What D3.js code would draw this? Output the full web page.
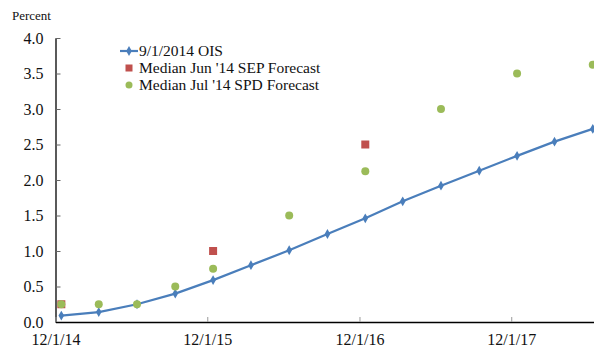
<!DOCTYPE html>
<html>
<head>
<meta charset="utf-8">
<script src="https://cdn.jsdelivr.net/npm/d3@7"></script>
<style>
  html, body { margin: 0; padding: 0; background: #fff; }
  svg { display: block; font-family: "Liberation Serif", "Times New Roman", serif; }
</style>
</head>
<body>
<svg id="chart" width="594" height="348"></svg>
<script>
// Quarterly dates for the OIS-implied path
const oisDates = ["2014-12-15","2015-03-15","2015-06-15","2015-09-15","2015-12-15",
  "2016-03-15","2016-06-15","2016-09-15","2016-12-15","2017-03-15","2017-06-15",
  "2017-09-15","2017-12-15","2018-03-15","2018-06-15"];
const oisValues = [0.09, 0.14, 0.25, 0.40, 0.59, 0.80, 1.01, 1.24, 1.46, 1.70, 1.92, 2.13, 2.34, 2.54, 2.72];

// June SEP medians (year-end)
const sepDates = ["2014-12-15","2015-12-15","2016-12-15"];
const sepValues = [0.25, 1.0, 2.5];

// July SPD medians
const spdDates = ["2014-12-15","2015-03-15","2015-06-15","2015-09-15","2015-12-15",
  "2016-06-15","2016-12-15","2017-06-15","2017-12-15","2018-06-15"];
const spdValues = [0.25, 0.25, 0.25, 0.5, 0.75, 1.5, 2.125, 3.0, 3.5, 3.625];

const xTickDates = ["2014-12-01","2015-12-01","2016-12-01","2017-12-01"];
const xTickLabels = ["12/1/14","12/1/15","12/1/16","12/1/17"];
const yTicks = [0, 0.5, 1.0, 1.5, 2.0, 2.5, 3.0, 3.5, 4.0];

const seriesNames = ["9/1/2014 OIS", "Median Jun '14 SEP Forecast", "Median Jul '14 SPD Forecast"];
const colors = { ois: "#4A7EBB", sep: "#C0504D", spd: "#9BBB59" };

const parse = d3.utcParse("%Y-%m-%d");
const svg = d3.select("#chart");

const plotLeft = 55.5, plotRight = 594, plotTop = 38, plotBottom = 322;
const serif = "Liberation Serif, Times New Roman, serif";

const x = d3.scaleUtc()
  .domain([parse("2014-12-01"), parse("2018-06-18")])
  .range([plotLeft, plotRight]);
const y = d3.scaleLinear().domain([0, 4]).range([plotBottom, plotTop]);

// Y axis: ticks point into the plot, labels on the left
const yAxis = svg.append("g")
  .attr("transform", `translate(${plotLeft},0)`)
  .call(d3.axisLeft(y).tickValues(yTicks).tickFormat(d3.format(".1f")).tickSize(0).tickPadding(12));
yAxis.select(".domain").attr("stroke", "#000").attr("stroke-width", 1.3);
yAxis.selectAll(".tick").append("line")
  .attr("x1", 0).attr("x2", 5).attr("stroke", "#666").attr("stroke-width", 1);
yAxis.selectAll(".tick text").attr("font-size", 16).attr("fill", "#111")
  .attr("font-family", serif);

// X axis
const xAxis = svg.append("g")
  .attr("transform", `translate(0,${plotBottom})`)
  .call(d3.axisBottom(x)
    .tickValues(xTickDates.map(parse))
    .tickFormat((d, i) => xTickLabels[i])
    .tickSize(0).tickPadding(12));
xAxis.select(".domain").attr("stroke", "#000").attr("stroke-width", 1.3);
xAxis.selectAll(".tick text").attr("font-size", 16).attr("fill", "#111")
  .attr("font-family", serif);
// small gray tick marks rising from the axis
xAxis.selectAll(".tick").append("line")
  .attr("y1", 0).attr("y2", -5).attr("stroke", "#999").attr("stroke-width", 1);

// Axis title
svg.append("text").attr("x", 12).attr("y", 20)
  .attr("font-size", 13).attr("fill", "#111").text("Percent");

// OIS line
const oisData = oisDates.map((d, i) => ({ date: parse(d), value: oisValues[i] }));
svg.append("path")
  .datum(oisData)
  .attr("fill", "none")
  .attr("stroke", colors.ois)
  .attr("stroke-width", 2.2)
  .attr("d", d3.line().x(d => x(d.date)).y(d => y(d.value)));

const diamond = d3.symbol().type(d3.symbolDiamond).size(28);
svg.append("g").selectAll("path")
  .data(oisData).join("path")
  .attr("transform", d => `translate(${x(d.date)},${y(d.value)})`)
  .attr("d", diamond)
  .attr("fill", colors.ois);

// SEP squares
const sepData = sepDates.map((d, i) => ({ date: parse(d), value: sepValues[i] }));
svg.append("g").selectAll("rect")
  .data(sepData).join("rect")
  .attr("x", d => x(d.date) - 4)
  .attr("y", d => y(d.value) - 4)
  .attr("width", 8).attr("height", 8)
  .attr("fill", colors.sep);

// SPD circles
const spdData = spdDates.map((d, i) => ({ date: parse(d), value: spdValues[i] }));
svg.append("g").selectAll("circle")
  .data(spdData).join("circle")
  .attr("cx", d => x(d.date))
  .attr("cy", d => y(d.value))
  .attr("r", 4)
  .attr("fill", colors.spd);

// Legend
const lg = svg.append("g").attr("font-size", 15.5).attr("fill", "#111");
const rowY = [51, 68, 85];
lg.append("line").attr("x1", 120).attr("x2", 138).attr("y1", rowY[0]).attr("y2", rowY[0])
  .attr("stroke", colors.ois).attr("stroke-width", 2.2);
lg.append("path").attr("transform", `translate(129,${rowY[0]})`).attr("d", diamond).attr("fill", colors.ois);
lg.append("rect").attr("x", 125.5).attr("y", rowY[1] - 3.5).attr("width", 7).attr("height", 7).attr("fill", colors.sep);
lg.append("circle").attr("cx", 129).attr("cy", rowY[2]).attr("r", 3.5).attr("fill", colors.spd);
seriesNames.forEach((name, i) => {
  lg.append("text").attr("x", 139).attr("y", rowY[i]).attr("dy", "0.35em").text(name);
});
</script>
</body>
</html>
